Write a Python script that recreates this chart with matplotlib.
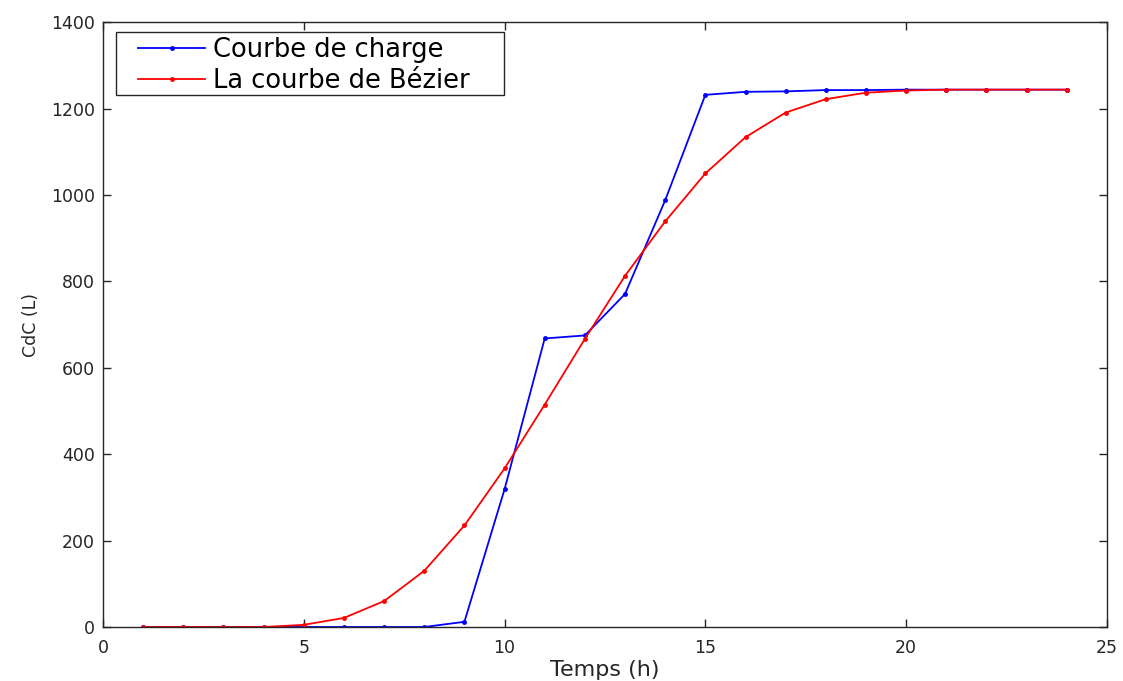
import numpy as np
import matplotlib
matplotlib.use("Agg")
import matplotlib.pyplot as plt
from matplotlib.patches import Rectangle

plt.rcParams['font.family'] = ['DejaVu Sans']

heures = list(range(1, 25))
courbe_charge = [0, 0, 0, 0, 0, 0, 0, 0, 12, 319, 668, 675, 771, 988, 1232,
                 1239, 1240, 1243, 1243, 1244, 1244, 1244, 1244, 1244]
courbe_bezier = [0, 0, 0, 0, 5, 21, 60, 130, 235, 367, 515, 667, 813, 939, 1050,
                 1134, 1191, 1222, 1237, 1242, 1244, 1244, 1244, 1244]

fig = plt.figure(figsize=(11.23, 6.81), dpi=100)
ax = fig.add_axes([0.0917, 0.0793, 0.894, 0.888])

ax.plot(heures, courbe_charge, color='#0000ff', marker='.', markersize=5, lw=1.3,
        label='Courbe de charge')
ax.plot(heures, courbe_bezier, color='#ff0000', marker='.', markersize=5, lw=1.3,
        label='La courbe de Bézier')

ax.set_xlim(0, 25)
ax.set_ylim(0, 1400)
ax.set_xticks(np.arange(0, 26, 5))
ax.set_yticks(np.arange(0, 1401, 200))
ax.tick_params(direction='in', top=True, right=True, length=6, width=1,
               labelsize=12.5, colors='#262626', pad=6)
ax.tick_params(axis='x', pad=9)
for s in ax.spines.values():
    s.set_color('#262626')
    s.set_linewidth(1)

ax.set_xlabel('Temps (h)', fontsize=16, color='#262626', labelpad=1.5)
ax.set_ylabel('CdC (L)', fontsize=12.5, color='#262626', labelpad=8)

# legende sans cadre + cadre dessine a la main (marges plus larges a gauche/droite)
leg = ax.legend(loc='upper left', bbox_to_anchor=(0.0299, 0.984), fontsize=18.5,
                handlelength=2.6, handletextpad=0.3, borderpad=0.2,
                labelspacing=0.2, frameon=False, borderaxespad=0)
ax.add_patch(Rectangle((0.013, 0.879), 0.3864, 0.1045, transform=ax.transAxes,
                       facecolor='white', edgecolor='#262626', lw=1, zorder=4))
leg.set_zorder(5)

fig.savefig('out.png', dpi=100)
